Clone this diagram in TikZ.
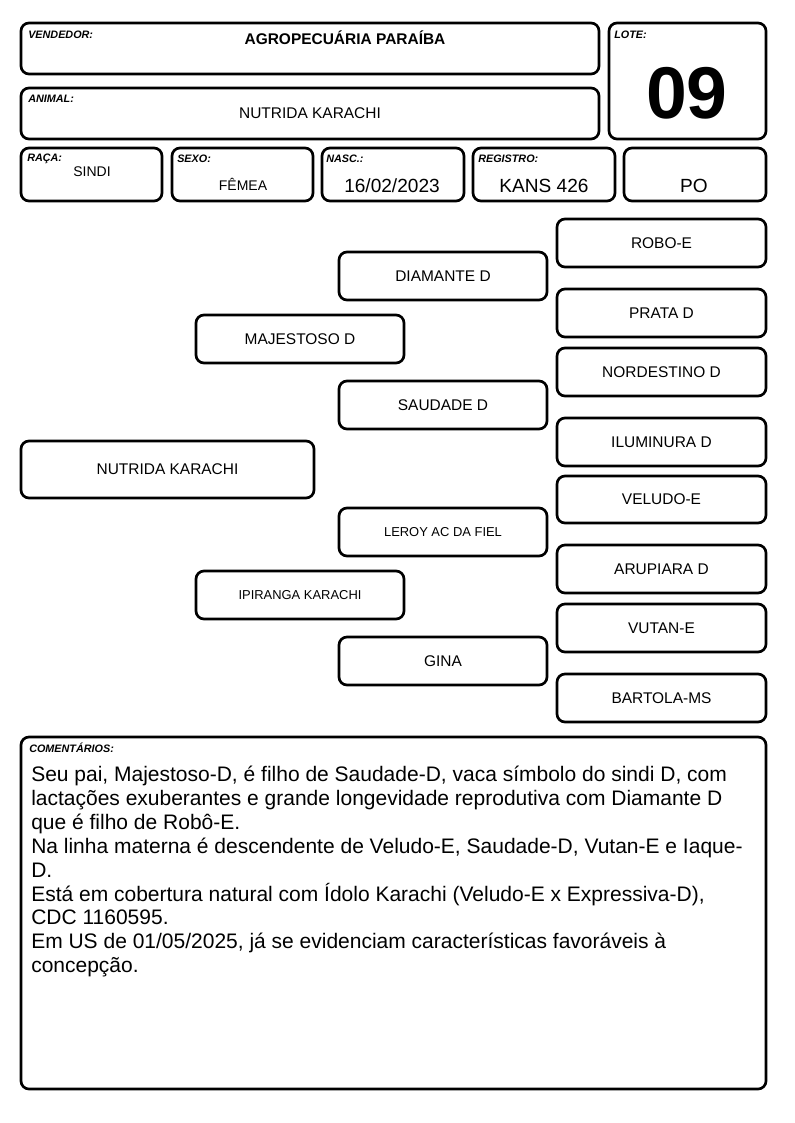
\documentclass[tikz,border=0pt]{standalone}
\usepackage{fontspec}
\setmainfont{Liberation Sans}
\newcommand{\fsz}[1]{\fontsize{#1}{1.2\dimexpr#1\relax}\selectfont}
\tikzset{
  wh/.style 2 args={minimum width=#1*0.75pt, minimum height=#2*0.75pt},
  box/.style={draw=black, line width=2pt, rounded corners=6pt, inner sep=0pt, fill=white},
  ped/.style={box, font=\fsz{11.6pt}},
  pedsmall/.style={box, font=\fsz{9.7pt}},
  lbl/.style={anchor=base west, inner sep=0pt, font=\bfseries\itshape\fsz{8.1pt}},
  val/.style={inner sep=0pt, font=\fsz{10.5pt}},
  valbig/.style={inner sep=0pt, font=\fsz{14.3pt}},
}
\begin{document}
\begin{tikzpicture}[x=0.75pt,y=-0.75pt]
\path[fill=white] (0,0) rectangle (794,1123);
\useasboundingbox (0,0) rectangle (794,1123);

% header boxes
\node[box, wh={578}{51}] (vend) at (310,48.5) {};
\node[box, wh={578}{51}] (anim) at (310,113.5) {};
\node[box, wh={157}{116}] (lote) at (687.5,81) {};
\node[box, wh={141}{53}] (raca) at (91.5,174.5) {};
\node[box, wh={141}{53}] (sexo) at (242.5,174.5) {};
\node[box, wh={142}{53}] (nasc) at (393,174.5) {};
\node[box, wh={142}{53}] (regi) at (544,174.5) {};
\node[box, wh={142}{53}] (po) at (695,174.5) {};

\node[lbl] (lvend) at (28,39) {VENDEDOR:};
\node[inner sep=0pt, font=\bfseries\fsz{11.6pt}] (tvend) at (345,37.5) {AGROPECUÁRIA PARAÍBA};
\node[lbl] (lanim) at (28,103) {ANIMAL:};
\node[val, font=\fsz{11.6pt}] (tanim) at (310,113) {NUTRIDA KARACHI};
\node[lbl] (llote) at (614,39) {LOTE:};
\node[inner sep=0pt, font=\bfseries\fsz{55pt}] (tlote) at (687,93) {09};
\node[lbl] (lraca) at (27,162) {RAÇA:};
\node[val] (traca) at (92,172) {SINDI};
\node[lbl] (lsexo) at (177,163) {SEXO:};
\node[val] (tsexo) at (243,184) {FÊMEA};
\node[lbl] (lnasc) at (326,163) {NASC.:};
\node[valbig] (tnasc) at (392,186) {16/02/2023};
\node[lbl] (lregi) at (478,163) {REGISTRO:};
\node[valbig] (tregi) at (544,186) {KANS 426};
\node[valbig] (tpo) at (694,186) {PO};

% pedigree
\node[ped, wh={293}{57}] (animal) at (167.5,469.5) {NUTRIDA KARACHI};
\node[ped, wh={208}{48}] (pai) at (300,339) {MAJESTOSO D};
\node[pedsmall, wh={208}{48}] (mae) at (300,595) {IPIRANGA KARACHI};
\node[ped, wh={208}{48}] (avp1) at (443,276) {DIAMANTE D};
\node[ped, wh={208}{48}] (avp2) at (443,405) {SAUDADE D};
\node[pedsmall, wh={208}{48}] (avm1) at (443,532) {LEROY AC DA FIEL};
\node[ped, wh={208}{48}] (avm2) at (443,661) {GINA};
\node[ped, wh={209}{48}] (b1) at (661.5,243) {ROBO-E};
\node[ped, wh={209}{48}] (b2) at (661.5,313) {PRATA D};
\node[ped, wh={209}{48}] (b3) at (661.5,372) {NORDESTINO D};
\node[ped, wh={209}{48}] (b4) at (661.5,442) {ILUMINURA D};
\node[ped, wh={209}{47}] (b5) at (661.5,499.5) {VELUDO-E};
\node[ped, wh={209}{48}] (b6) at (661.5,569) {ARUPIARA D};
\node[ped, wh={209}{48}] (b7) at (661.5,628) {VUTAN-E};
\node[ped, wh={209}{48}] (b8) at (661.5,698) {BARTOLA-MS};

% comments
\node[box, wh={745}{352}] (coment) at (393.5,913) {};
\node[lbl] (lcoment) at (29,752) {COMENTÁRIOS:};
\node[anchor=north west, inner sep=0pt, align=left, font=\fontsize{15.75pt}{17.9pt}\selectfont] (tcoment) at (31,766)
{Seu pai, Majestoso-D, é filho de Saudade-D, vaca símbolo do sindi D, com\\
lactações exuberantes e grande longevidade reprodutiva com Diamante D\\
que é filho de Robô-E.\\
Na linha materna é descendente de Veludo-E, Saudade-D, Vutan-E e Iaque-\\
D.\\
Está em cobertura natural com Ídolo Karachi (Veludo-E x Expressiva-D),\\
CDC 1160595.\\
Em US de 01/05/2025, já se evidenciam características favoráveis à\\
concepção.};
\end{tikzpicture}
\end{document}
